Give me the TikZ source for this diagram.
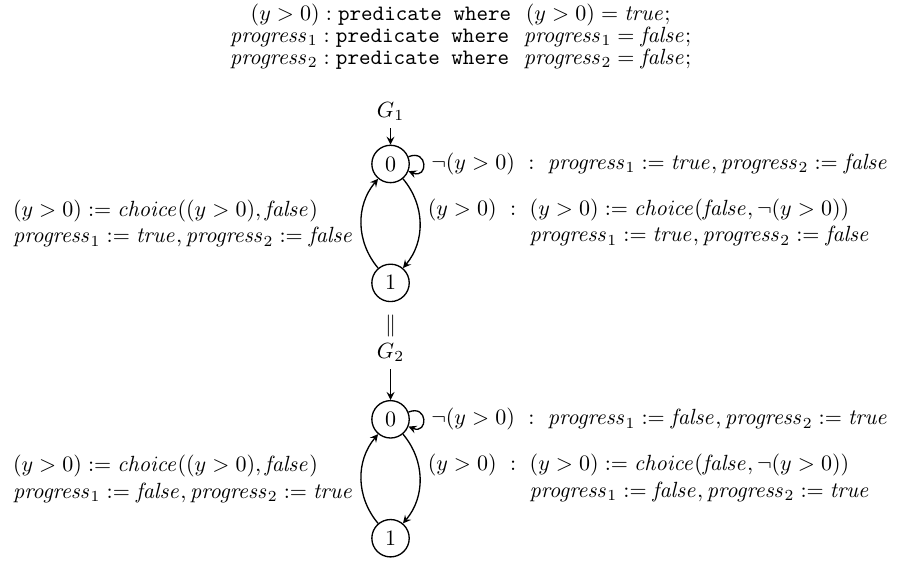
\documentclass[tikz,border=0pt]{standalone}
\usepackage{amsmath}

\newcommand{\prg}[1]{\mathit{progress}{}_{#1}}
\newcommand{\var}[1]{\mathit{#1}}

\tikzset{
  loc/.style={circle, draw, semithick, minimum size=17pt, inner sep=0pt},
  trans/.style={->, semithick},
  selfloop/.style={loop, out=22, in=-22, looseness=1, min distance=3.4mm},
}

\begin{document}
\begin{tikzpicture}[>=stealth]
  \useasboundingbox (0,0) rectangle (14.70,-8.96);
  % declarations
  \node[align=center] (decl) at (7.36,-0.58) {%
    $(y>0):\texttt{predicate where}\ \ (y>0)=\var{true};$\\[-2pt]
    $\prg{1}:\texttt{predicate where}\ \ \prg{1}=\var{false};$\\[-2pt]
    $\prg{2}:\texttt{predicate where}\ \ \prg{2}=\var{false};$};
  % first component
  \node (g1) at (6.24,-1.78) {$G_1$};
  \node[loc] (a0) at (6.24,-2.62) {$0$};
  \node[loc] (a1) at (6.24,-4.52) {$1$};
  \draw[trans] (g1) -- (a0);
  \draw[trans] (a0) to[selfloop] node[right]
    {$\neg(y>0)\ :\ \prg{1}:=\var{true},\prg{2}:=\var{false}$} (a0);
  \draw[trans] (a0) to[bend left=40] node[right]
    {$\begin{array}{@{}r@{\ \;}c@{\;\ }l@{}}
       (y>0) & {:} & (y>0):=\var{choice}(\var{false},\neg(y>0))\\
             &     & \prg{1}:=\var{true},\prg{2}:=\var{false}
     \end{array}$} (a1);
  \draw[trans] (a1) to[bend left=40] node[left, align=left]
    {$(y>0):=\var{choice}((y>0),\var{false})$\\
     $\prg{1}:=\var{true},\prg{2}:=\var{false}$} (a0);
  \node (par) at (6.24,-5.21) {$\|$};
  % second component
  \node (g2) at (6.24,-5.63) {$G_2$};
  \node[loc] (b0) at (6.24,-6.70) {$0$};
  \node[loc] (b1) at (6.24,-8.60) {$1$};
  \draw[trans] (g2) -- (b0);
  \draw[trans] (b0) to[selfloop] node[right]
    {$\neg(y>0)\ :\ \prg{1}:=\var{false},\prg{2}:=\var{true}$} (b0);
  \draw[trans] (b0) to[bend left=40] node[right]
    {$\begin{array}{@{}r@{\ \;}c@{\;\ }l@{}}
       (y>0) & {:} & (y>0):=\var{choice}(\var{false},\neg(y>0))\\
             &     & \prg{1}:=\var{false},\prg{2}:=\var{true}
     \end{array}$} (b1);
  \draw[trans] (b1) to[bend left=40] node[left, align=left]
    {$(y>0):=\var{choice}((y>0),\var{false})$\\
     $\prg{1}:=\var{false},\prg{2}:=\var{true}$} (b0);
\end{tikzpicture}
\end{document}
